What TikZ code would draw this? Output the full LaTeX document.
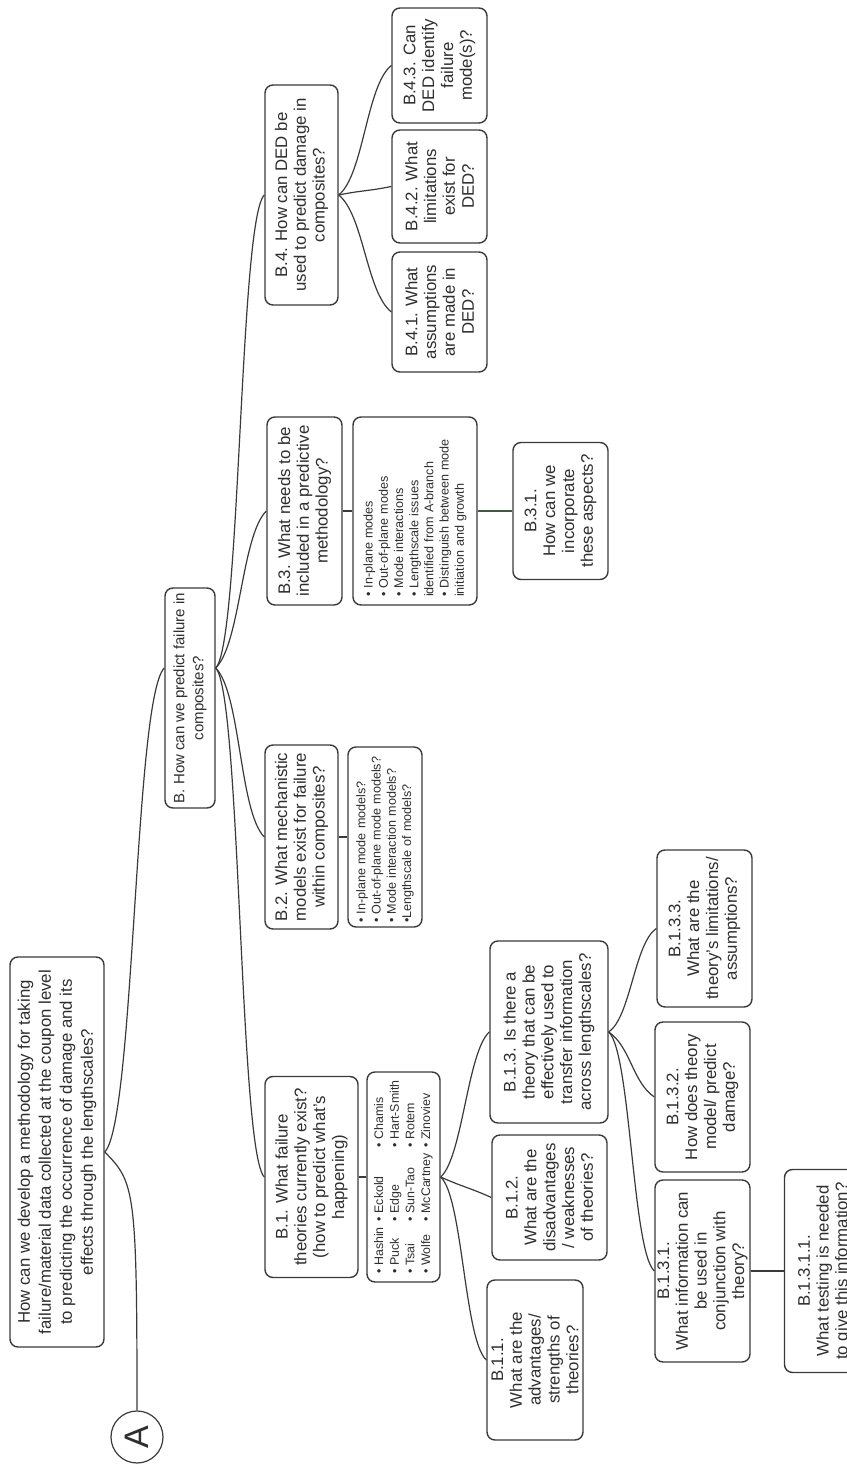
\documentclass[tikz,border=0pt]{standalone}
\usepackage{fontspec}
\setmainfont{Liberation Sans}
\usetikzlibrary{positioning}
\definecolor{linegray}{HTML}{3A3A3A}
\definecolor{textgray}{HTML}{2E2E2E}
\definecolor{linkgreen}{HTML}{3F5A40}
\tikzstyle{qbox} = [rectangle, rounded corners=4pt, draw=linegray, line width=0.7pt, text=textgray, align=center, inner sep=1pt, font=\fontsize{8.4}{9.4}\selectfont]
\tikzstyle{rootbox} = [qbox, font=\fontsize{8.4}{10.5}\selectfont]
\tikzstyle{listbox} = [qbox, align=left, font=\fontsize{6.3}{7.6}\selectfont]
\tikzstyle{marker} = [circle, draw=linegray, line width=0.6pt, minimum size=26pt, inner sep=0pt, text=textgray, font=\fontsize{17}{17}\selectfont]
\tikzstyle{link} = [draw=linegray, line width=0.6pt]

\begin{document}
\begin{tikzpicture}[x=0.5pt, y=0.5pt, rotate=90, transform shape]
    \useasboundingbox (0,0) rectangle (1464,-847);

        % Nodes
        \node (a) [marker] at (27,-137) {A};
        \node (root) [rootbox, minimum width=195pt, minimum height=47pt] at (312,-57) {How can we develop a methodology for taking\\failure/material data collected at the coupon level\\to predicting the occurrence of damage and its\\effects through the lengthscales?};
        \node (b) [qbox, minimum width=110pt, minimum height=25pt, font=\fontsize{7.5}{9.4}\selectfont] at (766,-190) {B. How can we predict failure in\\composites?};

        \node (b1) [qbox, minimum width=100.5pt, minimum height=46.5pt] at (287,-311.5) {B.1. What failure\\theories currently exist?\\(how to predict what's\\happening)};
        \node (b1list) [listbox, node distance=46pt, below of=b1, minimum width=105pt, minimum height=36.5pt, font=\fontsize{6.2}{7.8}\selectfont] {\begin{tabular}{@{}l@{\hspace{3pt}}l@{\hspace{3pt}}l@{}}
            • Hashin & • Eckold & • Chamis\\
            • Puck & • Edge & • Hart-Smith\\
            • Tsai & • Sun-Tao & • Rotem\\
            • Wolfe & • McCartney & • Zinoviev
        \end{tabular}};
        \node (b11) [qbox, minimum width=80pt, minimum height=48pt] at (104,-535) {B.1.1.\\What are the\\advantages/\\strengths of\\theories?};
        \node (b12) [qbox, minimum width=62.5pt, minimum height=57.5pt] at (266.5,-549.5) {B.1.2.\\What are the\\disadvantages\\/ weaknesses\\of theories?};
        \node (b13) [qbox, minimum width=91pt, minimum height=59pt] at (432,-549) {B.1.3. Is there a\\theory that can be\\effectively used to\\transfer information\\across lengthscales?};
        \node (b131) [qbox, minimum width=91pt, minimum height=47.5pt] at (193,-702.5) {B.1.3.1.\\What information can\\be used in\\conjunction with\\theory?};
        \node (b132) [qbox, minimum width=75pt, minimum height=47.5pt] at (367,-702.5) {B.1.3.2.\\How does theory\\model/ predict\\damage?};
        \node (b133) [qbox, minimum width=78.5pt, minimum height=47.5pt] at (535.5,-704.5) {B.1.3.3.\\What are the\\theory's limitations/\\assumptions?};
        \node (b1311) [qbox, node distance=61pt, below of=b131, minimum width=101.5pt, minimum height=40pt] {B.1.3.1.1.\\What testing is needed\\to give this information?};

        \node (b2) [qbox, minimum width=92pt, minimum height=36.5pt] at (627,-301.5) {B.2. What mechanistic\\models exist for failure\\within composites?};
        \node (b2list) [listbox, node distance=41.75pt, below of=b2, text width=86pt, inner xsep=2pt, minimum height=37pt] {• In-plane mode models?\\• Out-of-plane mode models?\\• Mode interaction models?\\•Lengthscale of models?};

        \node (b3) [qbox, minimum width=94pt, minimum height=37.5pt] at (953,-304.5) {B.3. What needs to be\\included in a predictive\\methodology?};
        \node (b3list) [listbox, node distance=55.25pt, below of=b3, text width=86pt, inner xsep=4pt, minimum height=62pt] {• In-plane modes\\• Out-of-plane modes\\• Mode interactions\\• Lengthscale issues\\identified from A-branch\\• Distinguish between mode\\initiation and growth};
        \node (b31) [qbox, node distance=72.75pt, below of=b3list, minimum width=68.5pt, minimum height=47.5pt] {B.3.1.\\How can we\\incorporate\\these aspects?};

        \node (b4) [qbox, minimum width=110pt, minimum height=36.5pt] at (1269,-301.5) {B.4. How can DED be\\used to predict damage in\\composites?};
        \node (b41) [qbox, minimum width=60pt, minimum height=47.5pt] at (1152,-439.5) {B.4.1. What\\assumptions\\are made in\\DED?};
        \node (b42) [qbox, minimum width=56.5pt, minimum height=47.5pt] at (1277.5,-439.5) {B.4.2. What\\limitations\\exist for\\DED?};
        \node (b43) [qbox, minimum width=57.5pt, minimum height=47.5pt] at (1398.5,-439.5) {B.4.3. Can\\DED identify\\failure\\mode(s)?};

        % Lines
        \draw [link] (a.east) .. controls +(220,0) and +(-30,-30) .. (root.south);
        \draw [link] (root.south) .. controls +(30,-30) and +(-30,30) .. ([xshift=15pt]b.north);
        \draw [link] ([xshift=15pt]b.south) .. controls +(-25,-25) and +(25,25) .. (b1.north);
        \draw [link] ([xshift=15pt]b.south) .. controls +(-25,-25) and +(25,25) .. (b2.north);
        \draw [link] ([xshift=15pt]b.south) .. controls +(25,-25) and +(-25,25) .. (b3.north);
        \draw [link] ([xshift=15pt]b.south) .. controls +(25,-25) and +(-25,25) .. (b4.north);
        \draw [link] (b1) -- (b1list);
        \draw [link] (b2) -- (b2list);
        \draw [link] (b3) -- (b3list);
        \draw [link, draw=linkgreen] (b3list) -- (b31);
        \draw [link] (b1list.south) .. controls +(-20,-22) and +(20,22) .. (b11.north);
        \draw [link] (b1list.south) .. controls +(-10,-22) and +(10,22) .. (b12.north);
        \draw [link] (b1list.south) .. controls +(20,-22) and +(-20,22) .. (b13.north);
        \draw [link] (b13.south) .. controls +(-20,-22) and +(20,22) .. (b131.north);
        \draw [link] (b13.south) .. controls +(-15,-22) and +(15,22) .. (b132.north);
        \draw [link] (b13.south) .. controls +(15,-22) and +(-15,22) .. (b133.north);
        \draw [link] (b131) -- (b1311);
        \draw [link] (b4.south) .. controls +(-20,-25) and +(20,25) .. (b41.north);
        \draw [link] (b4.south) .. controls +(5,-25) and +(-5,25) .. (b42.north);
        \draw [link] (b4.south) .. controls +(20,-25) and +(-20,25) .. (b43.north);

\end{tikzpicture}
\end{document}
